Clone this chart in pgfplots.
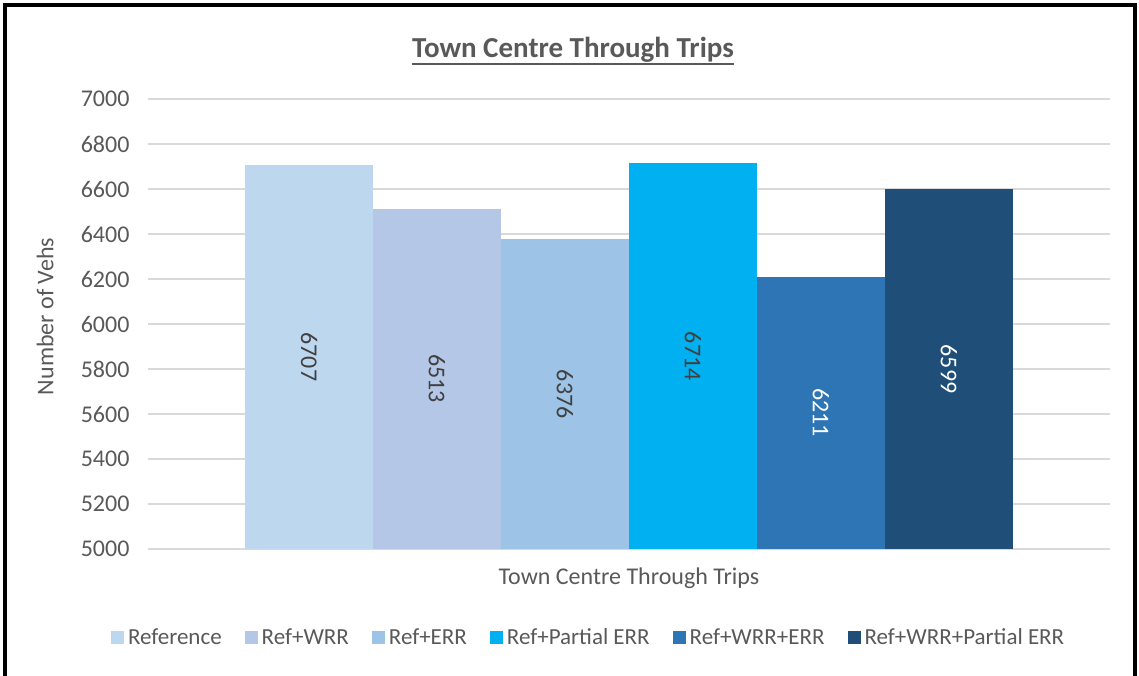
\documentclass[border=0pt]{standalone}
\usepackage{pgfplots}
\pgfplotsset{compat=1.18}
\usepackage{fontspec}
\setmainfont{Carlito}

\definecolor{c1}{HTML}{BDD7EE}
\definecolor{c2}{HTML}{B4C7E7}
\definecolor{c3}{HTML}{9DC3E6}
\definecolor{c4}{HTML}{00B0F0}
\definecolor{c5}{HTML}{2E75B6}
\definecolor{c6}{HTML}{1F4E79}
\definecolor{txt}{HTML}{595959}
\definecolor{lbl}{HTML}{404040}
\definecolor{gridc}{HTML}{D9D9D9}

\begin{document}
\begin{tikzpicture}
\useasboundingbox (0pt,0pt) rectangle (1139pt,675pt);

\begin{axis}[
    at={(148pt,126pt)}, anchor=south west,
    scale only axis,
    width=962pt, height=450pt,
    xmin=-1.258, xmax=6.258,
    ymin=5000, ymax=7000,
    ytick distance=200,
    xtick=\empty,
    scaled y ticks=false,
    axis line style={draw=none},
    tick style={draw=none},
    ymajorgrids,
    grid style={gridc, line width=1.5pt},
    /pgf/number format/1000 sep={},
    /pgf/number format/assume math mode=true,
    yticklabel style={font=\fontsize{24}{28}\selectfont, text=txt, xshift=-15pt},
    xlabel={Town Centre Through Trips},
    xlabel style={at={(axis description cs:0.5,0)}, anchor=center, yshift=-29pt,
                  font=\fontsize{24}{28}\selectfont, text=txt},
    ylabel={Number of Vehs},
    ylabel style={at={(axis description cs:-0.107,0.517)}, anchor=center,
                  font=\fontsize{24}{28}\selectfont, text=txt},
    legend columns=6,
    legend style={at={(axis description cs:0.457,-0.196)}, anchor=center,
                  draw=none, fill=none, inner sep=0pt,
                  font=\fontsize{23}{26}\selectfont, text=txt,
                  nodes={inner sep=0pt},
                  /tikz/every odd column/.append style={column sep=4pt},
                  /tikz/every even column/.append style={column sep=23pt}},
    legend image code/.code={\fill[#1] (0pt,-6.5pt) rectangle (13pt,6.5pt);},
]
\addplot[ybar, bar width=1, bar shift=0, fill=c1, draw=none] coordinates {(0,6707)};
\addplot[ybar, bar width=1, bar shift=0, fill=c2, draw=none] coordinates {(1,6513)};
\addplot[ybar, bar width=1, bar shift=0, fill=c3, draw=none] coordinates {(2,6376)};
\addplot[ybar, bar width=1, bar shift=0, fill=c4, draw=none] coordinates {(3,6714)};
\addplot[ybar, bar width=1, bar shift=0, fill=c5, draw=none] coordinates {(4,6211)};
\addplot[ybar, bar width=1, bar shift=0, fill=c6, draw=none] coordinates {(5,6599)};
\legend{Reference, Ref+WRR, Ref+ERR, Ref+Partial ERR, Ref+WRR+ERR, Ref+WRR+Partial ERR}

% value labels, centred in each bar (midpoint between 5000 and the value)
\addplot[forget plot, draw=none, mark=none, nodes near coords, point meta=explicit symbolic,
    every node near coord/.append style={rotate=-90, anchor=center, text=lbl,
                                         font=\fontsize{24}{28}\selectfont}]
  coordinates {(0,5853.5)[6707] (1,5756.5)[6513] (2,5688)[6376] (3,5857)[6714]};
\addplot[forget plot, draw=none, mark=none, nodes near coords, point meta=explicit symbolic,
    every node near coord/.append style={rotate=-90, anchor=center, text=white,
                                         font=\fontsize{24}{28}\selectfont}]
  coordinates {(4,5605.5)[6211] (5,5799.5)[6599]};
\end{axis}

% title
\node[inner sep=0pt, anchor=base, text=txt,
      font=\fontsize{29}{33}\selectfont\bfseries] (title) at (573pt,617pt) {Town Centre Through Trips};
\draw[txt, line width=2pt] ([yshift=-1pt]title.south west) -- ([yshift=-1pt]title.south east);

% frame (bottom edge is cut off in the reference)
\draw[line width=4pt] (5pt,-2pt) -- (5pt,670pt) -- (1135pt,670pt) -- (1135pt,-2pt);
\end{tikzpicture}
\end{document}
